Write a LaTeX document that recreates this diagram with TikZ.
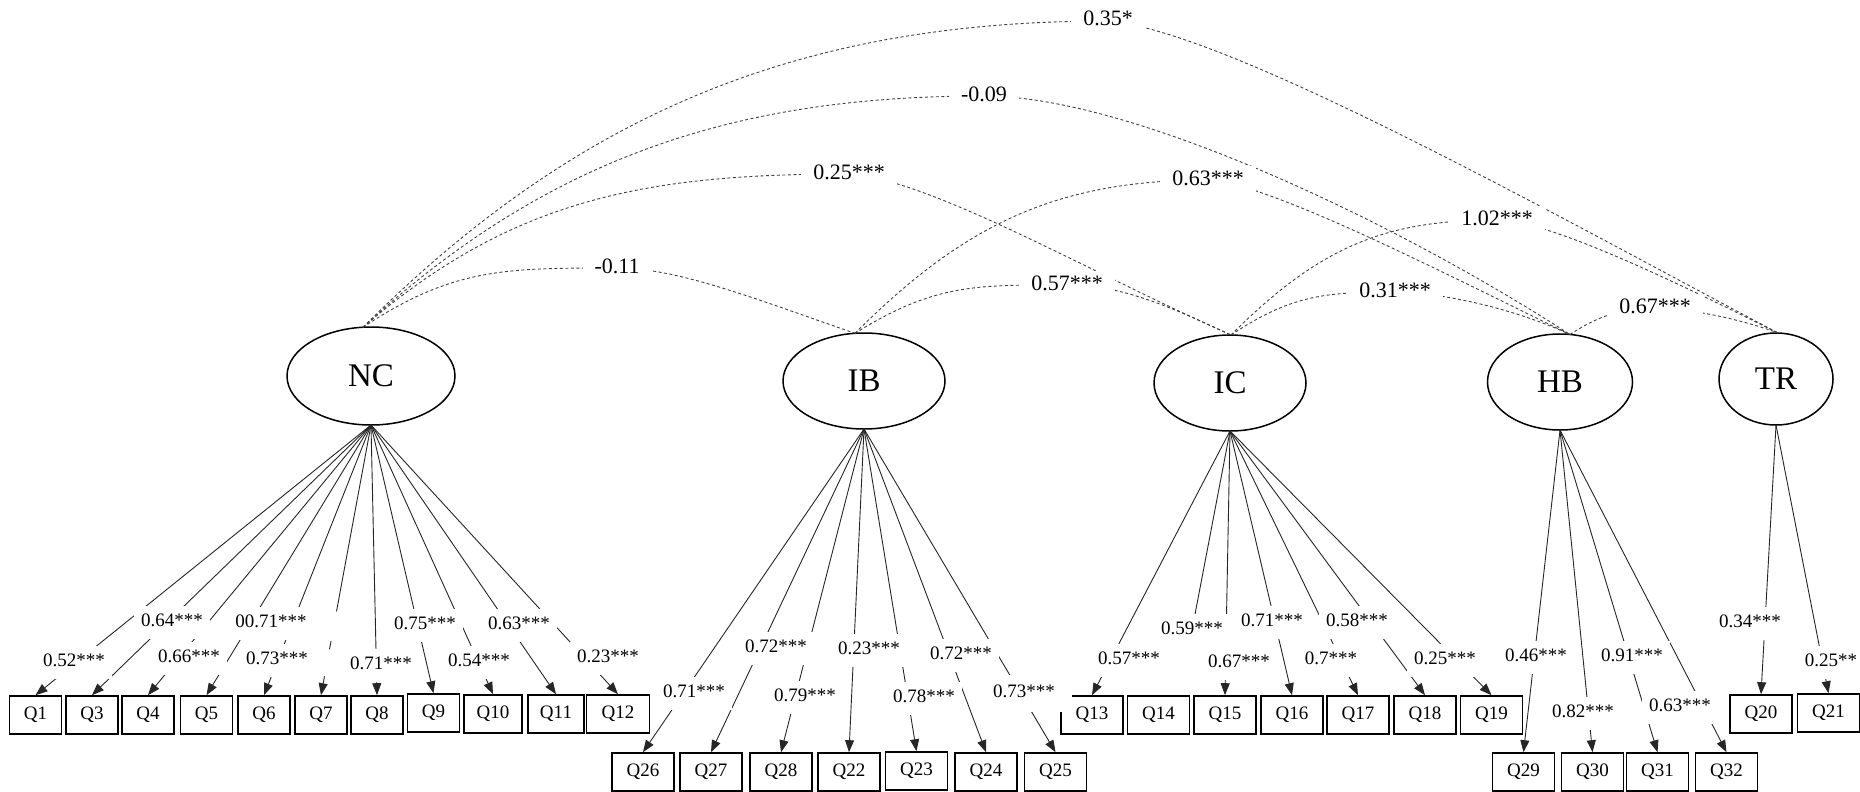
\documentclass[tikz,border=0pt]{standalone}
\usepackage{fontspec}
\setmainfont{Liberation Serif}
\usetikzlibrary{arrows.meta,shapes.geometric,calc}
\begin{document}
\begin{tikzpicture}[x=1pt,y=-1pt,
  lat/.style={ellipse, draw, line width=1.5pt, inner sep=0pt, outer sep=0pt, font=\fontsize{33}{38}\selectfont},
  obs/.style={draw, line width=1.6pt, minimum height=38pt, minimum width=62pt, inner sep=0pt, font=\fontsize{19}{23}\selectfont},
  load/.style={draw=black!85, line width=0.9pt, -{Triangle[length=12pt,width=9pt]}},
  plainline/.style={draw=black!85, line width=0.9pt},
  lab/.style={fill=white, inner xsep=7pt, inner ysep=8pt, text height=13pt, text depth=4pt, font=\fontsize{19}{23}\selectfont},
  cov/.style={draw=black!75, line width=0.9pt, dash pattern=on 3pt off 2.5pt},
  clab/.style={fill=white, inner xsep=12pt, inner ysep=4pt, text height=15pt, text depth=5pt, font=\fontsize{22}{26}\selectfont}
]
\useasboundingbox (0,0) rectangle (1860,792);

% latent variables
\node[lat, minimum width=168pt, minimum height=98pt] (NC) at (371,376) {NC};
\node[lat, minimum width=162pt, minimum height=96pt] (IB) at (864,381) {IB};
\node[lat, minimum width=152pt, minimum height=96pt] (IC) at (1230,383) {IC};
\node[lat, minimum width=145pt, minimum height=96pt] (HB) at (1560,382) {HB};
\node[lat, minimum width=114pt, minimum height=92pt] (TR) at (1776,379) {TR};

% arc end points on the tops of the ellipses
\coordinate (NCt) at ($(NC.north)+(-8,0.3)$);
\coordinate (IBt) at ($(IB.north)+(-9,0.3)$);
\coordinate (ICt) at ($(IC.north)+(1,0)$);
\coordinate (HBt) at ($(HB.north)+(10,0.5)$);
\coordinate (TRt) at ($(TR.north)+(2,0)$);

% observed variables, row 1
\node[obs, minimum width=52pt] (Q1) at (35.5,715) {Q1};
\node[obs, minimum width=52pt] (Q3) at (92,715) {Q3};
\node[obs, minimum width=52pt] (Q4) at (148,715) {Q4};
\node[obs, minimum width=52pt] (Q5) at (206.5,715) {Q5};
\node[obs, minimum width=52pt] (Q6) at (264,715) {Q6};
\node[obs, minimum width=52pt] (Q7) at (321,715) {Q7};
\node[obs, minimum width=52pt] (Q8) at (377,715) {Q8};
\node[obs, minimum width=52pt] (Q9) at (433.5,713) {Q9};
\node[obs, minimum width=58pt] (Q10) at (493,714) {Q10};
\node[obs, minimum width=56pt] (Q11) at (556,714) {Q11};
\node[obs, minimum width=63pt] (Q12) at (618,714) {Q12};
\node[obs] (Q13) at (1092,715) {Q13};
\node[obs] (Q14) at (1158.5,715) {Q14};
\node[obs] (Q15) at (1225,715) {Q15};
\node[obs] (Q16) at (1292,715) {Q16};
\node[obs] (Q17) at (1358,715) {Q17};
\node[obs] (Q18) at (1425,715) {Q18};
\node[obs] (Q19) at (1491.5,715) {Q19};
\node[obs] (Q20) at (1761,714) {Q20};
\node[obs] (Q21) at (1828.5,713) {Q21};
% observed variables, row 2
\node[obs] (Q26) at (643,772) {Q26};
\node[obs] (Q27) at (711,772) {Q27};
\node[obs] (Q28) at (781,772) {Q28};
\node[obs] (Q22) at (849,772) {Q22};
\node[obs] (Q23) at (916.5,771) {Q23};
\node[obs] (Q24) at (986,772) {Q24};
\node[obs] (Q25) at (1055.5,772) {Q25};
\node[obs] (Q29) at (1523.5,772) {Q29};
\node[obs] (Q30) at (1592.5,772) {Q30};
\node[obs] (Q31) at (1657.5,772) {Q31};
\node[obs] (Q32) at (1726.5,772) {Q32};

% covariance label positions
\coordinate (k1) at (1108,21);
\coordinate (k2) at (984,96);
\coordinate (k3) at (849,174);
\coordinate (k4) at (617,268);
\coordinate (k5) at (1208,180);
\coordinate (k6) at (1067,285);
\coordinate (k7) at (1497,220);
\coordinate (k8) at (1395,292);
\coordinate (k9) at (1655,308);

% covariances
\draw[cov] (NCt) .. controls +(220,-220) and +(-300,0) .. (k1) .. controls +(120,10) and +(-221,-117) .. (TRt);
\draw[cov] (NCt) .. controls +(190,-175) and +(-240,0) .. (k2) .. controls +(150,0) and +(-170,-110) .. (HBt);
\draw[cov] (NCt) .. controls +(150,-130) and +(-200,0) .. (k3) .. controls +(80,5) and +(-146,-65) .. (ICt);
\draw[cov] (NCt) .. controls +(90,-60) and +(-110,0) .. (k4) .. controls +(60,0) and +(-104,-36) .. (IBt);
\draw[cov] (IBt) .. controls +(110,-110) and +(-150,0) .. (k5) .. controls +(60,3) and +(-135,-66) .. (HBt);
\draw[cov] (IBt) .. controls +(80,-50) and +(-90,0) .. (k6) .. controls +(50,0) and +(-70,-33) .. (ICt);
\draw[cov] (ICt) .. controls +(90,-90) and +(-110,0) .. (k7) .. controls +(50,0) and +(-110,-55) .. (TRt);
\draw[cov] (ICt) .. controls +(60,-40) and +(-70,0) .. (k8) .. controls +(40,0) and +(-60,-28) .. (HBt);
\draw[cov] (HBt) .. controls +(30,-20) and +(-30,0) .. (k9) .. controls +(30,0) and +(-40,-15) .. (TRt);

% loadings
\foreach \q in {Q1,Q3,Q4,Q5,Q6,Q8,Q9,Q10,Q11,Q12}
  \draw[load] (NC.south) -- (\q.north);
\path (NC.south) -- (Q7.north) coordinate[pos=0.69] (q7a) coordinate[pos=0.80] (q7b)
  coordinate[pos=0.83] (q7c) coordinate[pos=0.93] (q7d);
\draw[plainline] (NC.south) -- (q7a);
\draw[plainline] (q7b) -- (q7c);
\draw[load] (q7d) -- (Q7.north);
\foreach \q in {Q26,Q27,Q28,Q22,Q23,Q24,Q25}
  \draw[load] (IB.south) -- (\q.north);
\coordinate (k14) at (1192,630);
\draw[plainline] (IC.south) -- (k14);
\foreach \q in {Q13,Q15,Q16,Q17,Q18,Q19}
  \draw[load] (IC.south) -- (\q.north);
\foreach \q in {Q29,Q30,Q31,Q32}
  \draw[load] (HB.south) -- (\q.north);
\foreach \q in {Q20,Q21}
  \draw[load] (TR.south) -- (\q.north);

% loading labels
\node[lab] (l1) at (74,662) {0.52***};
\node[lab] (l3) at (172,622) {0.64***};
\node[lab] (l4) at (189,658) {0.66***};
\node[lab] (l5) at (271,623) {00.71***};
\node[lab] (l6) at (277,660) {0.73***};
\node[lab] (l8) at (381,665) {0.71***};
\node[lab] (l9) at (425,625) {0.75***};
\node[lab] (l10) at (479,662) {0.54***};
\node[lab] (l11) at (519,625) {0.63***};
\node[lab] (l12) at (608,658) {0.23***};
\node[lab] (l26) at (694,693) {0.71***};
\node[lab] (l27) at (776,648) {0.72***};
\node[lab] (l28) at (805,697) {0.79***};
\node[lab] (l22) at (869,650) {0.23***};
\node[lab] (l23) at (924,698) {0.78***};
\node[lab] (l24) at (961,655) {0.72***};
\node[lab, inner xsep=17pt, inner ysep=10pt] (l25) at (1024,693) {0.73***};
\node[lab] (l13) at (1129,660) {0.57***};
\node[lab] (l14) at (k14) {0.59***};
\node[lab] (l15) at (1239,663) {0.67***};
\node[lab] (l16) at (1272,622) {0.71***};
\node[lab] (l17) at (1331,660) {0.7***};
\node[lab] (l18) at (1357,622) {0.58***};
\node[lab] (l19) at (1445,660) {0.25***};
\node[lab] (l29) at (1536,657) {0.46***};
\node[lab] (l30) at (1583,713) {0.82***};
\node[lab] (l31) at (1632,657) {0.91***};
\node[lab] (l32) at (1680,707) {0.63***};
\node[lab] (l20) at (1750,623) {0.34***};
\node[lab] (l21) at (1831,662) {0.25**};

% covariance labels
\node[clab] (c1) at (k1) {0.35*};
\node[clab] (c2) at (k2) {-0.09};
\node[clab] (c3) at (k3) {0.25***};
\node[clab] (c4) at (k4) {-0.11};
\node[clab] (c5) at (k5) {0.63***};
\node[clab] (c6) at (k6) {0.57***};
\node[clab] (c7) at (k7) {1.02***};
\node[clab] (c8) at (k8) {0.31***};
\node[clab] (c9) at (k9) {0.67***};
\end{tikzpicture}
\end{document}
